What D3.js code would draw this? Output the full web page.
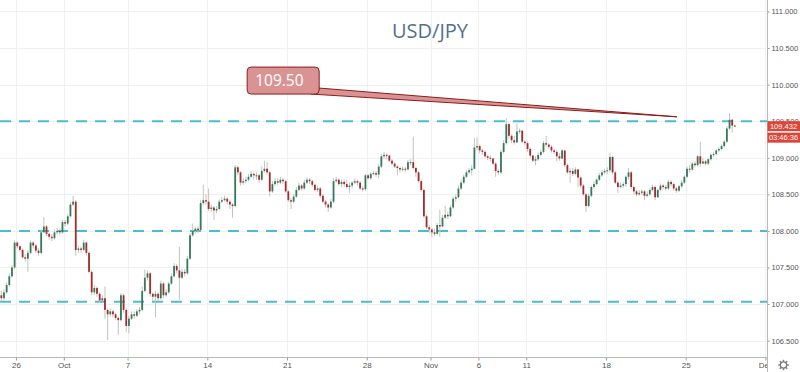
<!DOCTYPE html>
<html>
<head>
<meta charset="utf-8">
<title>USD/JPY</title>
<script src="https://cdn.jsdelivr.net/npm/d3@7"></script>
<style>
  body { margin: 0; background: #fff; }
  svg { display: block; font-family: "Open Sans", "Liberation Sans", sans-serif; }
</style>
</head>
<body>
<div id="chart"></div>
<script>
// 4h bars, Sep 25 -> Nov 28 2019, six bars a trading day
const pair = "USD/JPY";
const startDate = "2019-09-25";
const barsPerDay = 6;
const firstOpen = 107.12;

const closes = [
  107.08,107.16,107.26,107.38,107.50,107.84,107.79,107.74,107.64,107.62,
  107.70,107.84,107.80,107.73,107.70,107.98,108.06,107.96,107.92,107.90,
  107.98,108.00,107.98,108.12,108.10,108.20,108.36,108.40,107.74,107.76,
  107.74,107.84,107.70,107.44,107.16,107.22,107.14,107.05,107.08,106.92,
  106.86,106.90,106.86,106.81,106.78,107.12,106.92,106.70,106.80,106.86,
  106.84,106.90,106.92,107.18,107.36,107.42,107.14,107.10,107.14,107.08,
  107.28,107.12,107.16,107.28,107.38,107.52,107.46,107.36,107.44,107.42,
  107.62,107.94,108.00,108.03,108.01,108.38,108.42,108.40,108.30,108.32,
  108.28,108.30,108.40,108.42,108.44,108.40,108.36,108.34,108.87,108.80,
  108.66,108.68,108.70,108.74,108.78,108.76,108.76,108.70,108.82,108.85,
  108.80,108.54,108.64,108.68,108.66,108.70,108.68,108.54,108.42,108.40,
  108.47,108.56,108.62,108.58,108.66,108.70,108.68,108.63,108.56,108.58,
  108.48,108.40,108.36,108.32,108.40,108.68,108.70,108.64,108.67,108.64,
  108.60,108.62,108.66,108.68,108.66,108.58,108.57,108.76,108.72,108.78,
  108.79,108.77,108.88,109.02,109.04,109.03,108.96,108.92,108.88,108.86,
  108.84,108.85,108.84,108.94,108.94,108.86,108.80,108.68,108.56,108.20,
  108.05,108.02,107.98,107.96,108.08,108.06,108.18,108.22,108.20,108.32,
  108.44,108.46,108.58,108.66,108.74,108.80,108.83,108.85,109.14,109.16,
  109.10,109.08,109.02,109.00,108.99,108.92,108.82,108.80,109.08,109.20,
  109.46,109.30,109.24,109.21,109.36,109.37,109.22,109.20,109.12,109.03,
  108.96,108.98,109.04,109.08,109.20,109.18,109.15,109.10,109.08,109.02,
  108.99,109.10,108.90,108.80,108.82,108.78,108.84,108.73,108.62,108.50,
  108.34,108.48,108.60,108.64,108.70,108.76,108.80,108.82,108.83,109.01,
  108.80,108.66,108.60,108.62,108.64,108.74,108.80,108.60,108.54,108.50,
  108.52,108.54,108.48,108.50,108.56,108.60,108.46,108.56,108.62,108.60,
  108.58,108.67,108.64,108.58,108.55,108.61,108.66,108.74,108.85,108.84,
  108.92,108.90,109.02,108.92,108.95,108.92,108.98,109.04,109.05,109.10,
  109.12,109.16,109.22,109.40,109.52,109.44,109.432
];

const highs = [
  107.18,107.20,107.30,107.42,107.53,107.87,107.86,107.80,107.76,107.68,
  107.74,107.87,107.86,107.82,107.76,108.02,108.19,108.08,107.98,107.96,
  108.02,108.04,108.03,108.15,108.15,108.23,108.39,108.48,108.42,107.80,
  107.79,107.88,107.86,107.72,107.46,107.26,107.24,107.16,107.12,107.24,
  106.94,106.94,106.92,106.88,106.83,107.15,107.14,106.94,106.84,106.90,
  106.90,106.93,106.96,107.24,107.47,107.46,107.44,107.16,107.18,107.16,
  107.32,107.30,107.20,107.30,107.42,107.56,107.55,107.78,107.48,107.48,
  107.66,107.97,108.10,108.06,108.06,108.42,108.63,108.50,108.58,108.36,
  108.34,108.34,108.43,108.46,108.48,108.46,108.42,108.38,108.90,108.89,
  108.82,108.72,108.74,108.78,108.82,108.80,108.80,108.78,108.88,108.96,
  108.94,108.82,108.68,108.72,108.72,108.74,108.72,108.70,108.56,108.45,
  108.50,108.60,108.66,108.64,108.70,108.73,108.72,108.70,108.65,108.62,
  108.60,108.50,108.42,108.38,108.44,108.72,108.74,108.72,108.70,108.70,
  108.70,108.66,108.68,108.72,108.70,108.68,108.61,108.78,108.78,108.80,
  108.82,108.82,108.92,109.05,109.08,109.06,109.04,108.98,108.94,108.90,
  108.88,108.88,108.88,108.97,108.98,109.29,108.88,108.82,108.70,108.58,
  108.22,108.08,108.04,108.03,108.11,108.29,108.22,108.34,108.26,108.35,
  108.47,108.50,108.62,108.70,108.77,108.83,108.86,108.90,109.27,109.28,
  109.18,109.12,109.10,109.04,109.03,109.00,108.94,108.85,109.11,109.24,
  109.54,109.48,109.32,109.30,109.47,109.40,109.38,109.24,109.22,109.14,
  109.04,109.02,109.07,109.11,109.23,109.30,109.20,109.17,109.13,109.11,
  109.06,109.12,109.10,108.92,108.86,108.86,108.87,108.85,108.74,108.64,
  108.52,108.51,108.62,108.68,108.72,108.79,108.83,108.85,108.87,109.06,
  109.03,108.82,108.68,108.66,108.67,108.76,108.86,108.82,108.62,108.56,
  108.56,108.57,108.56,108.54,108.58,108.63,108.62,108.58,108.65,108.64,
  108.63,108.70,108.69,108.66,108.60,108.63,108.70,108.76,108.88,108.90,
  108.94,108.95,109.04,109.22,109.00,108.97,109.00,109.06,109.08,109.12,
  109.15,109.18,109.24,109.43,109.61,109.53,109.45
];

const lows = [
  107.03,107.05,107.14,107.24,107.36,107.48,107.76,107.71,107.62,107.58,
  107.44,107.68,107.76,107.70,107.66,107.68,107.98,107.93,107.88,107.86,
  107.88,107.95,107.94,107.96,108.06,108.08,108.18,108.34,107.66,107.70,
  107.70,107.72,107.66,107.42,107.12,107.12,107.10,107.02,107.03,106.80,
  106.51,106.83,106.82,106.78,106.58,106.76,106.88,106.62,106.60,106.78,
  106.80,106.82,106.86,106.90,107.16,107.32,107.10,107.04,106.82,107.04,
  107.06,107.08,107.10,107.14,107.26,107.36,107.42,107.06,107.34,107.38,
  107.40,107.60,107.92,107.96,107.97,108.00,108.35,108.36,108.27,108.26,
  108.15,108.24,108.28,108.38,108.40,108.36,108.30,108.18,108.32,108.76,
  108.62,108.63,108.65,108.68,108.72,108.70,108.70,108.66,108.68,108.80,
  108.77,108.47,108.52,108.62,108.63,108.64,108.64,108.52,108.40,108.30,
  108.38,108.45,108.54,108.55,108.56,108.64,108.64,108.60,108.54,108.53,
  108.45,108.38,108.32,108.26,108.30,108.38,108.66,108.62,108.60,108.60,
  108.58,108.52,108.58,108.64,108.62,108.56,108.54,108.55,108.70,108.70,
  108.76,108.74,108.72,108.86,108.99,108.98,108.94,108.90,108.86,108.76,
  108.80,108.81,108.80,108.83,108.90,108.84,108.74,108.66,108.54,108.18,
  108.02,107.97,107.92,107.93,107.95,107.92,108.05,108.16,108.16,108.19,
  108.30,108.40,108.44,108.56,108.64,108.72,108.78,108.76,108.84,109.10,
  109.06,109.04,109.00,108.97,108.95,108.90,108.74,108.77,108.78,109.06,
  109.18,109.26,109.20,109.18,109.20,109.33,109.20,109.17,109.08,109.00,
  108.94,108.90,108.96,109.02,109.06,109.15,109.12,109.07,109.05,108.95,
  108.96,108.98,108.87,108.78,108.66,108.75,108.76,108.60,108.58,108.48,
  108.26,108.32,108.46,108.58,108.62,108.68,108.74,108.78,108.78,108.80,
  108.77,108.64,108.52,108.58,108.59,108.60,108.70,108.57,108.50,108.47,
  108.48,108.49,108.42,108.46,108.48,108.54,108.42,108.45,108.54,108.57,
  108.55,108.56,108.61,108.55,108.52,108.53,108.59,108.64,108.72,108.80,
  108.82,108.87,108.88,108.88,108.92,108.89,108.90,108.96,109.01,109.04,
  109.08,109.10,109.14,109.20,109.38,109.34,109.42
];

const priceTicks = [106.5, 107, 107.5, 108, 108.5, 109, 109.5, 110, 110.5, 111];
const dateTicks = ["2019-09-26","2019-10-01","2019-10-07","2019-10-14","2019-10-21","2019-10-28",
                   "2019-11-01","2019-11-06","2019-11-11","2019-11-18","2019-11-25","2019-12-02"];
const dateLabels = ["26","Oct","7","14","21","28","Nov","6","11","18","25","Dec"];

// horizontal levels drawn on the chart
const levels = [109.5, 108.0, 107.03];

// callout: box corner and tip as [bar, price]
const calloutText = "109.50";
const calloutBox = [93, 110.24];
const calloutTip = [254.7, 109.56];

const lastPrice = 109.432;
const countdown = "03:46:36";


class CandleChart {

  constructor(_config) {
    this.config = {
      parentElement: _config.parentElement,
      containerWidth: _config.containerWidth || 800,
      containerHeight: _config.containerHeight || 372,
      margin: { top: 0, right: 33, bottom: 15, left: 0 },
      barsInView: _config.barsInView || 288.6,
      priceRange: _config.priceRange || [106.276, 111.157]
    }
    this.initVis();
  }

  // count weekdays between the first bar and a date
  tradingDay(dateStr) {
    const end = new Date(dateStr + "T00:00:00Z");
    let n = 0;
    for (let d = new Date(startDate + "T00:00:00Z"); d < end; d.setUTCDate(d.getUTCDate() + 1)) {
      const wd = d.getUTCDay();
      if (wd !== 0 && wd !== 6) n++;
    }
    return n;
  }

  initVis() {
    let vis = this;

    vis.width = vis.config.containerWidth - vis.config.margin.left - vis.config.margin.right;
    vis.height = vis.config.containerHeight - vis.config.margin.top - vis.config.margin.bottom;

    vis.bars = closes.map((c, i) => ({
      i: i,
      open: i === 0 ? firstOpen : closes[i - 1],
      close: c,
      high: highs[i],
      low: lows[i]
    }));

    vis.xScale = d3.scaleLinear()
      .domain([0, vis.config.barsInView])
      .range([0, vis.width]);

    vis.yScale = d3.scaleLinear()
      .domain(vis.config.priceRange)
      .range([vis.height, 0]);

    const tickBars = dateTicks.map(d => vis.tradingDay(d) * barsPerDay);

    const svg = d3.select(vis.config.parentElement)
      .append("svg")
        .attr("width", vis.config.containerWidth)
        .attr("height", vis.config.containerHeight);

    svg.append("rect")
      .attr("width", vis.config.containerWidth)
      .attr("height", vis.config.containerHeight)
      .attr("fill", "#fff");

    svg.append("clipPath").attr("id", "plot-clip")
      .append("rect")
        .attr("width", vis.width)
        .attr("height", vis.height);

    svg.append("clipPath").attr("id", "xaxis-clip")
      .append("rect")
        .attr("y", -2)
        .attr("width", vis.width)
        .attr("height", vis.config.margin.bottom + 2);

    const plot = svg.append("g").attr("clip-path", "url(#plot-clip)");

    // grid
    plot.append("g")
      .selectAll("line")
      .data(priceTicks)
      .join("line")
        .attr("x1", 0)
        .attr("x2", vis.width)
        .attr("y1", d => Math.round(vis.yScale(d)) + 0.5)
        .attr("y2", d => Math.round(vis.yScale(d)) + 0.5)
        .attr("stroke", "#eef0f2");

    plot.append("g")
      .selectAll("line")
      .data(tickBars)
      .join("line")
        .attr("x1", d => Math.round(vis.xScale(d)) + 0.5)
        .attr("x2", d => Math.round(vis.xScale(d)) + 0.5)
        .attr("y1", 0)
        .attr("y2", vis.height)
        .attr("stroke", "#eef0f2");

    // title
    svg.append("text")
      .attr("x", 430)
      .attr("y", 38)
      .attr("text-anchor", "middle")
      .attr("font-size", "20px")
      .attr("fill", "#52708f")
      .text(pair);

    // levels
    plot.append("g")
      .selectAll("line")
      .data(levels)
      .join("line")
        .attr("x1", 0)
        .attr("x2", vis.width)
        .attr("y1", d => vis.yScale(d))
        .attr("y2", d => vis.yScale(d))
        .attr("stroke", "#4cbdd0")
        .attr("stroke-width", 2)
        .attr("stroke-dasharray", "11,8");

    // candles
    const candle = plot.append("g")
      .selectAll("g")
      .data(vis.bars)
      .join("g");

    candle.append("line")
      .attr("x1", d => vis.xScale(d.i + 0.5))
      .attr("x2", d => vis.xScale(d.i + 0.5))
      .attr("y1", d => vis.yScale(d.high))
      .attr("y2", d => vis.yScale(d.low))
      .attr("stroke", "#c2c2c2")
      .attr("stroke-width", 1);

    candle.append("rect")
      .attr("x", d => vis.xScale(d.i + 0.5) - 0.9)
      .attr("width", 1.8)
      .attr("y", d => vis.yScale(Math.max(d.open, d.close)))
      .attr("height", d => Math.max(1, Math.abs(vis.yScale(d.open) - vis.yScale(d.close))))
      .attr("fill", d => d.close >= d.open ? "#357a5a" : "#a32c2c");

    // callout
    const bx = vis.xScale(calloutBox[0]);
    const by = vis.yScale(calloutBox[1]);
    const boxW = 72, boxH = 27;
    const tipX = vis.xScale(calloutTip[0]);
    const tipY = vis.yScale(calloutTip[1]);

    const callout = svg.append("g");
    callout.append("polygon")
      .attr("points", [[bx + boxW, by + 21], [tipX, tipY], [bx + boxW - 8, by + boxH]].join(" "))
      .attr("fill", "#d99393")
      .attr("stroke", "#8e1b1b")
      .attr("stroke-width", 1);
    callout.append("rect")
      .attr("x", bx)
      .attr("y", by)
      .attr("width", boxW)
      .attr("height", boxH)
      .attr("rx", 4)
      .attr("fill", "#d99393")
      .attr("stroke", "#8e1b1b")
      .attr("stroke-width", 1);
    callout.append("text")
      .attr("x", bx + 8)
      .attr("y", by + 19)
      .attr("font-size", "15.5px")
      .attr("fill", "#fff")
      .text(calloutText);

    // axes
    const yAxis = d3.axisRight(vis.yScale)
      .tickValues(priceTicks)
      .tickFormat(d3.format(".3f"))
      .tickSize(2)
      .tickPadding(2);

    const yAxisG = svg.append("g")
      .attr("transform", `translate(${vis.width + 0.5},0)`)
      .call(yAxis);
    yAxisG.select(".domain").remove();
    yAxisG.selectAll("line").attr("stroke", "#9a9a9a");
    yAxisG.selectAll("text")
      .attr("font-size", "7.5px")
      .attr("fill", "#555")
      .attr("font-family", "'Liberation Sans', Arial, sans-serif");

    svg.append("line")
      .attr("x1", vis.width + 0.5)
      .attr("x2", vis.width + 0.5)
      .attr("y1", 0)
      .attr("y2", vis.config.containerHeight)
      .attr("stroke", "#b8b8b8");

    const xAxis = d3.axisBottom(vis.xScale)
      .tickValues(tickBars)
      .tickFormat((d, i) => dateLabels[i])
      .tickSize(3)
      .tickPadding(2);

    const xAxisG = svg.append("g")
      .attr("transform", `translate(0,${vis.height + 0.5})`)
      .attr("clip-path", "url(#xaxis-clip)")
      .call(xAxis);
    xAxisG.select(".domain").remove();
    xAxisG.selectAll("line").attr("stroke", "#9a9a9a");
    xAxisG.selectAll("text")
      .attr("font-size", "8px")
      .attr("fill", "#555")
      .attr("font-family", "'Liberation Sans', Arial, sans-serif");

    svg.append("line")
      .attr("x1", 0)
      .attr("x2", vis.width)
      .attr("y1", vis.height + 0.5)
      .attr("y2", vis.height + 0.5)
      .attr("stroke", "#b8b8b8");

    // last price + bar countdown
    const py = vis.yScale(lastPrice);
    const tags = [
      { text: d3.format(".3f")(lastPrice), y: py - 5 },
      { text: countdown, y: py + 6.5 }
    ];
    const tag = svg.append("g")
      .selectAll("g")
      .data(tags)
      .join("g");
    tag.append("rect")
      .attr("x", vis.width + 0.5)
      .attr("y", d => d.y)
      .attr("width", vis.config.margin.right - 0.5)
      .attr("height", 10)
      .attr("fill", "#dc4538");
    tag.append("text")
      .attr("x", vis.width + vis.config.margin.right / 2)
      .attr("y", d => d.y + 7.8)
      .attr("text-anchor", "middle")
      .attr("font-size", "7.5px")
      .attr("font-family", "'Liberation Sans', Arial, sans-serif")
      .attr("fill", "#fff")
      .text(d => d.text);

    // settings gear in the corner
    const gear = svg.append("g")
      .attr("transform", `translate(${vis.width + 16.5},${vis.height + 8})`)
      .attr("stroke", "#777")
      .attr("fill", "none");
    gear.append("circle").attr("r", 3.2).attr("stroke-width", 1.2);
    gear.selectAll("line")
      .data(d3.range(8))
      .join("line")
        .attr("x1", d => 3.6 * Math.cos(d * Math.PI / 4))
        .attr("y1", d => 3.6 * Math.sin(d * Math.PI / 4))
        .attr("x2", d => 5.2 * Math.cos(d * Math.PI / 4))
        .attr("y2", d => 5.2 * Math.sin(d * Math.PI / 4))
        .attr("stroke-width", 1.4);
  }
}

const chart = new CandleChart({ parentElement: "#chart" });
</script>
</body>
</html>
